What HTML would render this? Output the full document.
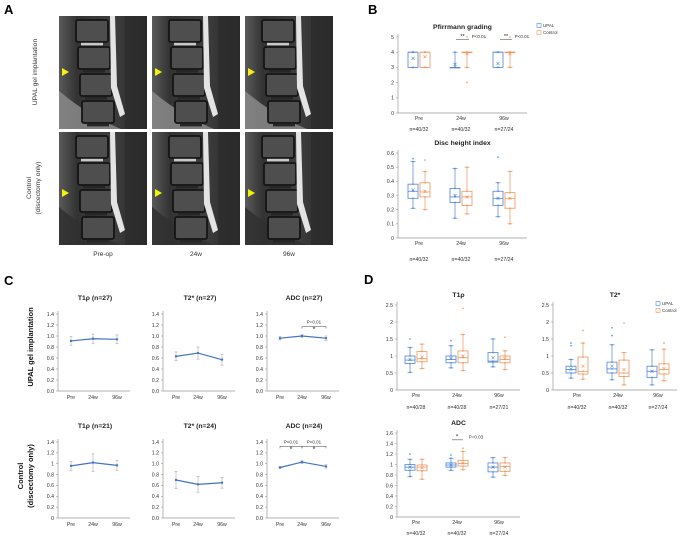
<!DOCTYPE html>
<html><head><meta charset="utf-8"><style>
html,body{margin:0;padding:0;background:#fff}
svg{display:block;font-family:"Liberation Sans",sans-serif}
</style></head><body>
<svg id="fig" width="683" height="539" viewBox="0 0 683 539" xmlns="http://www.w3.org/2000/svg">
<defs>
<linearGradient id="mriG" x1="0" x2="1" y1="0" y2="0">
<stop offset="0" stop-color="#5a5a5a"/><stop offset="0.2" stop-color="#333"/><stop offset="0.6" stop-color="#3e3e3e"/><stop offset="1" stop-color="#262626"/>
</linearGradient>
</defs>
</svg>
<script>
// ---------- DATA ----------
const cCats = ["Pre","24w","96w"];
const cT1pU = [0.91,0.95,0.94], cT1pUErr = [0.08,0.085,0.08];
const cT2U = [0.63,0.69,0.57], cT2UErr = [0.08,0.11,0.10];
const cADCU = [0.96,1.00,0.96], cADCUErr = [0.03,0.025,0.04];
const cT1pC = [0.96,1.02,0.97], cT1pCErr = [0.08,0.16,0.095];
const cT2C = [0.70,0.62,0.65], cT2CErr = [0.16,0.145,0.10];
const cADCC = [0.93,1.03,0.95], cADCCErr = [0.02,0.025,0.03];
// box stats: [whiskerLow, q1, median, q3, whiskerHigh, mean]
const pfU = [[3,3,4,4,4,3.6],[3,3,3,3,4,3.2],[3,3,4,4,4,3.25]];
const pfC = [[3,3,4,4,4,3.7],[3,4,4,4,4,3.9],[3,4,4,4,4,3.9]];
const pfCOut = [[],[5,3,2],[5,3]];
const dhU = [[0.21,0.28,0.33,0.38,0.54,0.34],[0.14,0.25,0.29,0.35,0.49,0.30],[0.15,0.23,0.28,0.33,0.39,0.28]];
const dhC = [[0.20,0.29,0.325,0.39,0.47,0.33],[0.17,0.23,0.29,0.33,0.50,0.29],[0.10,0.21,0.28,0.32,0.47,0.28]];
const dhUOut = [[0.56],[],[0.57]], dhCOut = [[0.55],[],[]];
const dT1pU = [[0.52,0.78,0.88,1.0,1.25,0.9],[0.65,0.8,0.9,1.0,1.3,0.93],[0.68,0.82,0.85,1.1,1.5,0.95]];
const dT1pC = [[0.63,0.83,0.92,1.13,1.35,0.97],[0.57,0.8,0.95,1.15,1.63,1.0],[0.6,0.8,0.9,1.0,1.15,0.93]];
const dT1pUOut = [[1.5],[1.45],[]], dT1pCOut = [[],[2.4],[1.55]];
const dT2U = [[0.35,0.5,0.6,0.7,0.9,0.62],[0.3,0.5,0.62,0.82,1.33,0.7],[0.15,0.37,0.55,0.7,1.18,0.55]];
const dT2C = [[0.32,0.47,0.55,0.97,1.38,0.7],[0.15,0.4,0.5,0.88,1.1,0.6],[0.27,0.47,0.6,0.77,1.2,0.63]];
const dT2UOut = [[1.3,1.38],[1.6,1.83],[]], dT2COut = [[1.75],[1.97],[1.38]];
const dADCU = [[0.77,0.89,0.95,1.0,1.1,0.95],[0.89,0.95,0.99,1.03,1.12,0.99],[0.76,0.86,0.95,1.03,1.13,0.95]];
const dADCC = [[0.72,0.88,0.95,0.99,1.1,0.94],[0.9,0.97,1.02,1.08,1.25,1.03],[0.79,0.87,0.96,1.03,1.13,0.95]];
const dADCUOut = [[1.2],[1.18],[]], dADCCOut = [[],[1.31],[]];
const nB = ["n=40/32","n=40/32","n=27/24"];
const nDT1 = ["n=40/28","n=40/28","n=27/21"];
const nDT2 = ["n=40/32","n=40/32","n=27/24"];

// ---------- helpers ----------
const NS="http://www.w3.org/2000/svg";
const svg=document.getElementById('fig');
const BLUE="#4f86d9", ORANGE="#ef945a";
function el(tag,attrs,parent,txt){const e=document.createElementNS(NS,tag);for(const k in attrs)e.setAttribute(k,attrs[k]);if(txt!==undefined)e.textContent=txt;(parent||svg).appendChild(e);return e;}
function grp(name){const g=el('g',{});


return g;}
function txt(g,x,y,s,size,opts){const t=el('text',Object.assign({x:x,y:y,'font-size':size,fill:'#333','text-anchor':'middle'},opts||{}),g,s);return t;}

function axes(g,x0,x1,yTop,yBot,vmax,ticks,labels){
  const sy=v=>yBot-(v/vmax)*(yBot-yTop);
  el('line',{x1:x0,x2:x0,y1:yTop-3,y2:yBot,stroke:'#999','stroke-width':0.7},g);
  el('line',{x1:x0,x2:x1,y1:yBot,y2:yBot,stroke:'#999','stroke-width':0.7},g);
  ticks.forEach((v,i)=>{el('line',{x1:x0-2,x2:x0,y1:sy(v),y2:sy(v),stroke:'#999','stroke-width':0.6},g);
    const t=txt(g,x0-4,sy(v)+1.8,labels[i],5.2,{'text-anchor':'end'});
    
    });
  return sy;
}
function box(g,cx,s,sy,color,outs){
  const w=10,ext=2.5;
  el('line',{x1:cx,x2:cx,y1:sy(s[0]),y2:sy(s[1]),stroke:color,'stroke-width':0.7},g);
  el('line',{x1:cx,x2:cx,y1:sy(s[3]),y2:sy(s[4]),stroke:color,'stroke-width':0.7},g);
  el('line',{x1:cx-ext,x2:cx+ext,y1:sy(s[0]),y2:sy(s[0]),stroke:color,'stroke-width':0.7},g);
  el('line',{x1:cx-ext,x2:cx+ext,y1:sy(s[4]),y2:sy(s[4]),stroke:color,'stroke-width':0.7},g);
  const b=el('rect',{x:cx-w/2,y:sy(s[3]),width:w,height:Math.max(0.5,sy(s[1])-sy(s[3])),fill:'none',stroke:color,'stroke-width':0.8},g);
  
  
  el('line',{x1:cx-w/2,x2:cx+w/2,y1:sy(s[2]),y2:sy(s[2]),stroke:color,'stroke-width':0.8},g);
  const m=sy(s[5]);
  el('path',{d:`M${cx-1.5},${m-1.5}L${cx+1.5},${m+1.5}M${cx-1.5},${m+1.5}L${cx+1.5},${m-1.5}`,stroke:color,'stroke-width':0.6},g);
  [s[0],s[1],s[2],s[3],s[4]].concat(outs).forEach(v=>{el('circle',{cx:cx,cy:sy(v),r:0.9,fill:color,opacity:0.8},g);});
}
function legend(g,x,y){
  el('rect',{x:x,y:y-3.5,width:4,height:4,fill:'none',stroke:BLUE,'stroke-width':0.6},g);
  txt(g,x+6,y,"UPAL",4.5,{'text-anchor':'start'});
  el('rect',{x:x,y:y+3.5,width:4,height:4,fill:'none',stroke:ORANGE,'stroke-width':0.6},g);
  txt(g,x+6,y+7,"Control",4.5,{'text-anchor':'start'});
}
function boxChart(name,title,x0,x1,yTop,yBot,vmax,ticks,labels,catX,U,C,UO,CO,ny,nLabels){
  const g=grp(name);
  const t=txt(g,(x0+x1)/2,yTop-8,title,6.8,{'font-weight':'bold',fill:'#222'});
  
  
  const sy=axes(g,x0,x1,yTop,yBot,vmax,ticks,labels);
  cCats.forEach((c,i)=>{
    box(g,catX[i]-6,U[i],sy,BLUE,UO[i]);
    box(g,catX[i]+6,C[i],sy,ORANGE,CO[i]);
    txt(g,catX[i],yBot+7,c,5.2);
    if(nLabels) txt(g,catX[i],ny,nLabels[i],5.2);
  });
  return {g,sy};
}
function lineChart(name,title,x0,yTop,yBot,vals,errs,labels){
  const g=grp(name);
  const x1=x0+72;
  const t=txt(g,x0+37,yTop-14,title,6.8,{'font-weight':'bold',fill:'#222'});
  
  
  const ticks=[0,0.2,0.4,0.6,0.8,1.0,1.2,1.4];
  const sy=axes(g,x0,x1,yTop,yBot,1.4,ticks,labels);
  const xs=[x0+13,x0+35,x0+59];
  let d="";
  vals.forEach((v,i)=>{
    const e=errs[i];
    el('line',{x1:xs[i],x2:xs[i],y1:sy(v-e),y2:sy(v+e),stroke:'#aaa','stroke-width':0.6},g);
    el('line',{x1:xs[i]-1.5,x2:xs[i]+1.5,y1:sy(v-e),y2:sy(v-e),stroke:'#aaa','stroke-width':0.6},g);
    el('line',{x1:xs[i]-1.5,x2:xs[i]+1.5,y1:sy(v+e),y2:sy(v+e),stroke:'#aaa','stroke-width':0.6},g);
    d+=(i?"L":"M")+xs[i]+","+sy(v);
    txt(g,xs[i],yBot+8,cCats[i],5.2);
  });
  const p=el('path',{d:d,fill:'none',stroke:'#4472c4','stroke-width':1.2},g);
  
  
  vals.forEach((v,i)=>{el('circle',{cx:xs[i],cy:sy(v),r:1.2,fill:'#4472c4'},g);});
  return {g,sy,xs};
}
function bracket(g,xa,xb,y,label,ptxt){
  el('path',{d:`M${xa},${y+2}L${xa},${y}L${xb},${y}L${xb},${y+2}`,fill:'none',stroke:'#666','stroke-width':0.6},g);
  txt(g,(xa+xb)/2,y+5,"*",7,{fill:'#222'});
  txt(g,(xa+xb)/2,y-3,ptxt,4.5);
}

// ---------- Panel labels ----------
[["A",4,14],["B",368,14],["C",4,285],["D",364,284]].forEach(([s,x,y])=>{
  const t=el('text',{x:x,y:y,'font-size':13,'font-weight':'bold',fill:'#000'},svg,s);
  
  
});

// ---------- Panel A: MRI images ----------
const gA=grp('panel-a-mri');
const colX=[59,152,245], rowY=[16,132], W=88, H=113;
rowY.forEach((ry,r)=>colX.forEach((cx,c)=>{
  const im=el('g',{},gA);
  
  
  el('rect',{x:cx,y:ry,width:W,height:H,fill:'url(#mriG)'},im);
  // soft tissue lower left
  el('path',{d:`M${cx},${ry+75} Q${cx+30},${ry+100} ${cx+62},${ry+H} L${cx},${ry+H} Z`,fill:(r==0?'#8a8a8a':'#303030'),opacity:0.85},im);
  el('rect',{x:cx+66,y:ry,width:22,height:H,fill:'#2c2c2c',opacity:0.75},im);
  // vertebral bodies
  for(let k=0;k<4;k++){
    el('rect',{x:cx+17+k*2,y:ry+4+k*27,width:32,height:22,rx:2,fill:'#4e4e4e',stroke:'#141414','stroke-width':1.8},im);
    el('rect',{x:cx+22+k*2,y:ry+26.8+k*27,width:22,height:2.6,fill:(k==0?'#c8c8c8':'#262626')},im);
  }
  // spinal canal (bright)
  el('path',{d:`M${cx+51},${ry} L${cx+56},${ry} L${cx+58},${ry+70} L${cx+66},${ry+98} L${cx+61},${ry+101} L${cx+52},${ry+72} Z`,fill:'#e4e4e4'},im);
  const ay=ry+(r==0?56:61);
  const ar=el('path',{d:`M${cx+3},${ay-4}L${cx+10},${ay}L${cx+3},${ay+4}Z`,fill:'#f2f20a'},im);
  
  
}));
["Pre-op","24w","96w"].forEach((s,i)=>txt(gA,colX[i]+W/2,256,s,6.5));
txt(gA,0,0,"UPAL gel implantation",6.8,{transform:'translate(37,72) rotate(-90)'});
txt(gA,0,0,"Control",6.8,{transform:'translate(31,188) rotate(-90)'});
txt(gA,0,0,"(discectomy only)",6.8,{transform:'translate(40,188) rotate(-90)'});

// ---------- Panel B ----------
const bCat=[419,461,504];
const pf=boxChart('pfirrmann-chart','Pfirrmann grading',398,527,37,113,5,[0,1,2,3,4,5],["0","1","2","3","4","5"],bCat,pfU,pfC,[[],[],[]],pfCOut,131,nB);
legend(pf.g,537,27);
[[456,469,"P<0.01"],[500,512,"P<0.01"]].forEach(([a,b,p])=>{
  el('line',{x1:a,x2:b,y1:pf.sy(4.85),y2:pf.sy(4.85),stroke:'#555','stroke-width':0.6},pf.g);
  txt(pf.g,(a+b)/2,pf.sy(4.85)-1.5,"**",5.5,{fill:'#222'});
  txt(pf.g,b+10,pf.sy(4.85)-1.5,p,4.5);
});
boxChart('disc-height-chart','Disc height index',398,527,153,238,0.6,[0,0.1,0.2,0.3,0.4,0.5,0.6],["0","0.1","0.2","0.3","0.4","0.5","0.6"],bCat,dhU,dhC,dhUOut,dhCOut,261,nB);

// ---------- Panel C ----------
const lab1=["0.0","0.2","0.4","0.6","0.8","1.0","1.2","1.4"];
const lab2=["0","0.2","0.4","0.6","0.8","1","1.2","1.4"];
lineChart('c-t1p-upal','T1\u03c1 (n=27)',58,314,391,cT1pU,cT1pUErr,lab1);
lineChart('c-t2-upal','T2* (n=27)',163,314,391,cT2U,cT2UErr,lab1);
const ca=lineChart('c-adc-upal','ADC (n=27)',267,314,391,cADCU,cADCUErr,lab1);
bracket(ca.g,ca.xs[1],ca.xs[2],ca.sy(1.17),"*","P=0.01");
lineChart('c-t1p-control','T1\u03c1 (n=21)',58,442,518,cT1pC,cT1pCErr,lab2);
lineChart('c-t2-control','T2* (n=24)',163,442,518,cT2C,cT2CErr,lab1);
const cc=lineChart('c-adc-control','ADC (n=24)',267,442,518,cADCC,cADCCErr,lab1);
bracket(cc.g,cc.xs[0],cc.xs[1],cc.sy(1.32),"*","P<0.01");
bracket(cc.g,cc.xs[1],cc.xs[2],cc.sy(1.32),"*","P<0.01");
const gCl=grp('panel-c-row-labels');
txt(gCl,0,0,"UPAL gel implantation",7.5,{transform:'translate(33,347) rotate(-90)',fill:'#111','font-weight':'bold'});
txt(gCl,0,0,"Control",7.5,{transform:'translate(23,476) rotate(-90)',fill:'#111','font-weight':'bold'});
txt(gCl,0,0,"(discectomy only)",7.5,{transform:'translate(33,476) rotate(-90)',fill:'#111','font-weight':'bold'});

// ---------- Panel D ----------
const dLab=["0","0.5","1","1.5","2","2.5"], dTk=[0,0.5,1,1.5,2,2.5];
boxChart('d-t1p-chart','T1\u03c1',397,520,305,390,2.5,dTk,dLab,[416,457,499],dT1pU,dT1pC,dT1pUOut,dT1pCOut,409,nDT1);
const dt2=boxChart('d-t2-chart','T2*',553,677,305,390,2.5,dTk,dLab,[577,618,658],dT2U,dT2C,dT2UOut,dT2COut,409,nDT2);
legend(dt2.g,656,305);
const da=boxChart('d-adc-chart','ADC',397,520,433,517,1.6,[0,0.2,0.4,0.6,0.8,1,1.2,1.4,1.6],["0","0.2","0.4","0.6","0.8","1","1.2","1.4","1.6"],[416,457,499],dADCU,dADCC,dADCUOut,dADCCOut,535,nDT2);
el('line',{x1:452,x2:463,y1:da.sy(1.47),y2:da.sy(1.47),stroke:'#555','stroke-width':0.6},da.g);
txt(da.g,457,da.sy(1.47)-1.5,"*",6,{fill:'#222'});
txt(da.g,476,da.sy(1.47)-1.5,"P=0.03",4.5);
</script>
</body></html>
